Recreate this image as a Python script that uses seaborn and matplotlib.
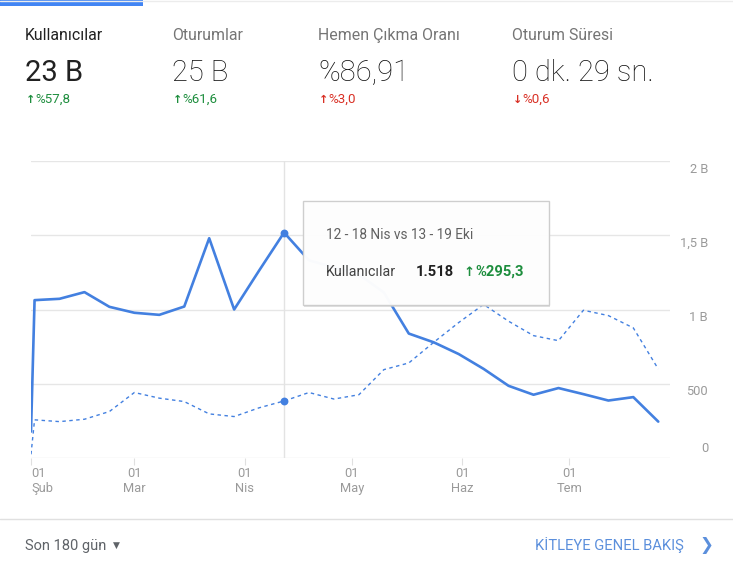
import pandas as pd
import numpy as np
import matplotlib
matplotlib.use('Agg')
import matplotlib.pyplot as plt
from matplotlib.patches import Rectangle
from matplotlib.lines import Line2D
import seaborn as sns

# weekly data (GA audience overview, last 180 days vs previous period)
week_starts = ['2020-02-01', '2020-02-02', '2020-02-09', '2020-02-16', '2020-02-23',
               '2020-03-01', '2020-03-08', '2020-03-15', '2020-03-22', '2020-03-29',
               '2020-04-05', '2020-04-12', '2020-04-19', '2020-04-26', '2020-05-03',
               '2020-05-10', '2020-05-17', '2020-05-24', '2020-05-31', '2020-06-07',
               '2020-06-14', '2020-06-21', '2020-06-28', '2020-07-05', '2020-07-12',
               '2020-07-19', '2020-07-26']
users_current = [178, 1063, 1072, 1117, 1018, 978, 964, 1020, 1480, 1000,
                 1262, 1518, 1331, 1284, 1236, 1115, 838, 779, 700, 600,
                 486, 426, 471, 430, 387, 410, 245]
users_previous = [25, 257, 245, 261, 313, 441, 403, 380, 297, 279,
                  338, 384, 441, 397, 426, 595, 640, 779, 912, 1034,
                  921, 824, 790, 995, 959, 876, 599]
hover_week = '2020-04-12'

month_ticks = ['2020-02-01', '2020-03-01', '2020-04-01', '2020-05-01', '2020-06-01', '2020-07-01']
month_labels = ['01\nŞub', '01\nMar', '01\nNis', '01\nMay', '01\nHaz', '01\nTem']
y_ticks = [0, 500, 1000, 1500, 2000]
y_labels = ['0', '500', '1 B', '1,5 B', '2 B']

metric_names = ['Kullanıcılar', 'Oturumlar', 'Hemen Çıkma Oranı', 'Oturum Süresi']
metric_values = ['23 B', '25 B', '%86,91', '0 dk. 29 sn.']
metric_changes = ['%57,8', '%61,6', '%3,0', '%0,6']
metric_up = [True, True, True, False]
metric_good = [True, True, False, False]

BLUE = '#4380e0'
GREEN = '#1e8e3e'
RED = '#d93025'
GREY = '#9a9a9a'

sns.set_style('white')
plt.rcParams['font.family'] = ['Roboto', 'DejaVu Sans']

W, H = 733, 564
fig = plt.figure(figsize=(W / 100, H / 100), dpi=100)
fig.patch.set_facecolor('white')


def fx(px):
    return px / W


def fy(py):
    return 1 - py / H


# top tab indicator
fig.add_artist(Line2D([0, 1], [fy(0.5), fy(0.5)], color='#ececec', lw=1))
fig.add_artist(Rectangle((0, fy(6)), fx(143), 6 / H, color='#4285f4', lw=0))

# metric headers
col_x = [25, 172, 318, 512]
for i, x in enumerate(col_x):
    first = i == 0
    fig.text(fx(x), fy(40), metric_names[i], fontsize=11.4,
             color='#212121' if first else '#757575', va='baseline')
    fig.text(fx(x), fy(81), metric_values[i], fontsize=21,
             color='#212121' if first else '#111111',
             fontweight='normal' if first else 'light', va='baseline')
    c = GREEN if metric_good[i] else RED
    arrow = '↑' if metric_up[i] else '↓'
    fig.text(fx(x + 1), fy(103), arrow, fontsize=8, color=c, va='baseline',
             fontweight='bold', family=['DejaVu Sans'])
    fig.text(fx(x + 10), fy(103), metric_changes[i], fontsize=9.6, color=c, va='baseline')

# chart
ax = fig.add_axes([fx(31), fy(458), fx(670) - fx(31), (458 - 161) / H])
df = pd.DataFrame({'week': pd.to_datetime(week_starts),
                   'current': users_current,
                   'previous': users_previous})

ax.axvline(pd.Timestamp(hover_week), color='#e3e3e3', lw=1, zorder=1)
sns.lineplot(data=df, x='week', y='previous', ax=ax, color=BLUE, linewidth=1.0,
             linestyle=(0, (2.5, 2.5)), zorder=3)
sns.lineplot(data=df, x='week', y='current', ax=ax, color=BLUE, linewidth=1.9, zorder=4)
hov = df[df['week'] == pd.Timestamp(hover_week)]
sns.scatterplot(x=list(hov['week']) * 2, y=list(hov['current']) + list(hov['previous']),
                ax=ax, color=BLUE, s=32, edgecolor=BLUE, linewidth=0, zorder=5)

ax.set_xlim(pd.Timestamp('2020-02-01'), pd.Timestamp('2020-07-29 07:00'))
ax.set_ylim(0, 2000)
ax.set_yticks(y_ticks)
ax.set_yticklabels([])
ax.yaxis.grid(True, color='#e6e6e6', lw=1)
ax.xaxis.grid(False)
for s in ax.spines.values():
    s.set_visible(False)
ax.set_xticks(pd.to_datetime(month_ticks))
ax.set_xticklabels(month_labels, linespacing=1.15)
ax.tick_params(axis='x', length=5, color='#e0e0e0', labelcolor=GREY, labelsize=9.3, pad=1.5,
               bottom=True)
ax.tick_params(axis='y', length=0)
ax.get_xticklabels()[0].set_horizontalalignment('left')
ax.set_xlabel('')
ax.set_ylabel('')

for v, lab in zip(y_ticks, y_labels):
    dy = 9 if v == 0 else -8
    ax.annotate(lab, xy=(1, v), xycoords=('axes fraction', 'data'),
                xytext=(38, dy), textcoords='offset pixels',
                ha='right', va='center', fontsize=9.3, color=GREY)

# tooltip
fig.add_artist(Rectangle((fx(304), fy(307)), fx(549) - fx(303), (305 - 201) / H,
                         facecolor='#d0d0d0', edgecolor='none', alpha=0.6, zorder=9))
fig.add_artist(Rectangle((fx(303), fy(305)), fx(549) - fx(303), (305 - 201) / H,
                         facecolor='white', edgecolor='#cccccc', lw=1, alpha=0.95, zorder=10))
fig.text(fx(326), fy(239), '12 - 18 Nis vs 13 - 19 Eki', fontsize=9.8, color='#616161',
         va='baseline', zorder=11)
fig.text(fx(326), fy(276), 'Kullanıcılar', fontsize=10.3, color='#424242',
         va='baseline', zorder=11)
fig.text(fx(416), fy(276), '1.518', fontsize=10.6, color='#212121', fontweight='bold',
         va='baseline', zorder=11)
fig.text(fx(463), fy(276), '↑', fontsize=9.5, color=GREEN, fontweight='bold',
         va='baseline', zorder=11, family=['DejaVu Sans'])
fig.text(fx(475), fy(276), '%295,3', fontsize=10.6, color=GREEN, fontweight='bold',
         va='baseline', zorder=11)

# footer
fig.add_artist(Line2D([0, 1], [fy(519), fy(519)], color='#e0e0e0', lw=1))
fig.text(fx(25), fy(550), 'Son 180 gün', fontsize=10.5, color='#5f6368', va='baseline')
fig.text(fx(113), fy(547.5), '▼', fontsize=6.5, color='#5f6368', va='baseline',
         family=['DejaVu Sans'])
fig.text(fx(684), fy(550), 'KİTLEYE GENEL BAKIŞ', fontsize=10.6, color='#5b8fdc',
         ha='right', va='baseline')
fig.text(fx(699), fy(550.5), '❯', fontsize=12, color='#5b8fdc', va='baseline',
         family=['DejaVu Sans'])

fig.savefig('out.png', dpi=100, facecolor='white')
